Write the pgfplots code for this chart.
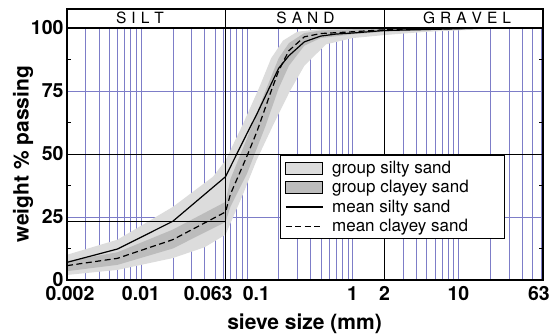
\documentclass[border=0pt]{standalone}
\usepackage{fontspec}
\setmainfont{TeX Gyre Heros}
\usepackage{pgfplots}
\pgfplotsset{compat=1.18}
\definecolor{gridblue}{RGB}{125,125,200}
\definecolor{lightband}{RGB}{220,220,220}
\definecolor{darkband}{RGB}{188,188,188}
\pgfplotsset{
  lineleg/.style={legend image code/.code={\draw[##1] (0pt,0pt) -- (37pt,0pt); \path (44pt,0pt) circle (0pt);}},
  lightleg/.style={legend image code/.code={\draw[fill=lightband,draw=black,line width=0.6pt] (0pt,-6pt) rectangle (37pt,6pt); \path (44pt,0pt) circle (0pt);}},
  darkleg/.style={legend image code/.code={\draw[fill=darkband,draw=black,line width=0.6pt] (0pt,-6pt) rectangle (37pt,6pt); \path (44pt,0pt) circle (0pt);}},
}
\begin{document}
\begin{tikzpicture}
\begin{axis}[
  at={(0,0)}, anchor=south west,
  scale only axis, width=476pt, height=252pt,
  xmode=log, xmin=0.002, xmax=63, ymin=0, ymax=100,
  clip=false,
  axis line style={line width=1.1pt},
  xtick={0.002,0.01,0.1,1,10,63},
  xticklabels={\hspace*{6pt}0.002,0.01,\makebox[8pt][l]{0.1},1,10,\hspace*{-8pt}63},
  extra x ticks={0.063,2},
  extra x tick labels={\makebox[14pt][r]{0.063},2},
  extra x tick style={major tick length=0pt},
  minor xtick={0.003,0.004,0.005,0.006,0.007,0.008,0.009,0.01,0.02,0.03,0.04,0.05,0.06,0.07,0.08,0.09,0.1,0.2,0.3,0.4,0.5,0.6,0.7,0.8,0.9,1,3,4,5,6,7,8,9,10,20,30,40,50,60},
  xminorgrids=true,
  minor x grid style={gridblue, line width=0.45pt},
  xtick style={draw=none},
  ytick={0,25,75,100}, yticklabels={0,25,75,100},
  extra y ticks={50}, extra y tick labels={50},
  ymajorgrids=true,
  major y grid style={gridblue, line width=0.45pt},
  extra y tick style={ymajorgrids=false},
  minor ytick={12.5,37.5,62.5,87.5},
  ytick pos=both, yticklabel pos=left,
  ytick style={black, line width=0.6pt},
  tick align=inside, major tick length=0pt, minor tick length=4pt,
  ticklabel style={font=\bfseries\fontsize{19.5}{21}\selectfont},
  xticklabel style={yshift=-3pt},
  xlabel={sieve size (mm)},
  ylabel={weight \% passing},
  xlabel style={at={(axis description cs:0.499,-0.175)}, anchor=center, font=\bfseries\fontsize{21}{23}\selectfont},
  ylabel style={at={(axis description cs:-0.0924,0.5)}, anchor=center, font=\bfseries\fontsize{21}{23}\selectfont},
  legend style={at={(0.447,0.496)}, anchor=north west, draw=none, fill=none,
    font=\fontsize{17}{20}\selectfont, inner xsep=5pt, inner ysep=4pt, row sep=1.5pt},
  legend cell align=left,
]
% group silty sand (light band)
\addplot[fill=lightband, draw=none, lightleg]
  coordinates {
  (0.002,10) (0.006,16) (0.02,29) (0.048,41) (0.063,47.5) (0.09,61) (0.13,76) (0.17,88) (0.22,95) (0.3,98.5) (0.5,99.6) (1,100) (25,100)
  (17,99.5) (5,98.5) (2,97.2) (1,96) (0.56,93.5) (0.35,85) (0.256,75) (0.18,62) (0.124,47.6) (0.09,33) (0.063,18) (0.04,13) (0.02,8.7) (0.006,4) (0.002,2)
  } -- cycle;
\addlegendentry{group silty sand}
% group clayey sand (dark band)
\addplot[fill=darkband, draw=none, darkleg]
  coordinates {
  (0.002,7.5) (0.006,11) (0.02,20) (0.063,31) (0.07,40) (0.1,56) (0.15,75) (0.2,88) (0.25,94) (0.35,98) (0.5,99) (1,99.5) (2,99.7) (10,100) (20,100)
  (10,99.5) (2,98.5) (1,97.5) (0.5,96) (0.35,93) (0.25,85) (0.2,76) (0.15,61) (0.1,42) (0.07,29) (0.063,23) (0.02,12.5) (0.006,6) (0.002,3.5)
  } -- cycle;
\addlegendentry{group clayey sand}
% mean silty sand
\addplot[black, line width=1.2pt, lineleg]
  coordinates {
  (0.002,7) (0.006,12.3) (0.02,23.3) (0.063,41) (0.1,58) (0.125,66) (0.2,84) (0.25,89) (0.35,94.5) (0.5,96.8) (0.7,97.6) (1,98) (2,99) (10,99.7) (20,100)
  };
\addlegendentry{mean silty sand}
% mean clayey sand
\addplot[black, line width=1.2pt, dash pattern=on 6pt off 3.5pt, lineleg]
  coordinates {
  (0.002,5.7) (0.006,8.6) (0.02,16) (0.063,27) (0.07,34) (0.1,49) (0.125,59) (0.17,75) (0.2,83) (0.25,91) (0.35,96.5) (0.5,97.8) (1,98.5) (2,99.3) (10,99.8) (20,100)
  };
\addlegendentry{mean clayey sand}
% black reference lines
\addplot[black, line width=0.9pt, forget plot] coordinates {(0.002,23.3) (0.063,23.3)};
\addplot[black, line width=0.9pt, forget plot] coordinates {(0.002,50) (63,50)};
\addplot[black, line width=0.9pt, forget plot] coordinates {(0.063,0) (0.063,100)};
\addplot[black, line width=0.9pt, forget plot] coordinates {(2,0) (2,100)};
% frame
\draw[line width=1.1pt] (rel axis cs:0,0) rectangle (rel axis cs:1,1);
% legend box
\draw[fill=white, line width=0.8pt] (rel axis cs:0.4475,0.496) rectangle (rel axis cs:0.918,0.1667);
% header band
\draw[line width=1.2pt] (rel axis cs:0,1) rectangle ([yshift=19pt]rel axis cs:1,1);
\draw[line width=0.9pt] (axis cs:0.063,100) -- ([yshift=19pt]axis cs:0.063,100);
\draw[line width=0.9pt] (axis cs:2,100) -- ([yshift=19pt]axis cs:2,100);
\node[anchor=base, font=\fontsize{15.5}{17}\selectfont] at ([yshift=4pt]axis cs:0.0098,100) {S\kern5pt I\kern5pt L\kern5pt T};
\node[anchor=base, font=\fontsize{15.5}{17}\selectfont] at ([yshift=4pt]axis cs:0.359,100) {S\kern5pt A\kern5pt N\kern5pt D};
\node[anchor=base, font=\fontsize{15.5}{17}\selectfont] at ([yshift=4pt]axis cs:12.08,100) {G\kern5pt R\kern5pt A\kern5pt V\kern5pt E\kern5pt L};
\end{axis}
\pgfresetboundingbox
\path[use as bounding box] (-67pt,-56pt) rectangle (485pt,280pt);
\end{tikzpicture}
\end{document}
